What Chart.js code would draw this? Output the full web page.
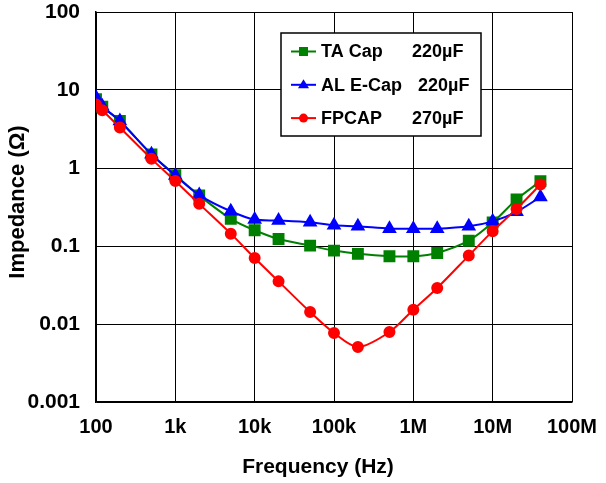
<!DOCTYPE html>
<html>
<head>
<meta charset="utf-8">
<script src="https://cdn.jsdelivr.net/npm/chart.js@4/dist/chart.umd.min.js"></script>
<style>
  html, body { margin: 0; padding: 0; background: #fff; }
  #wrap { width: 606px; height: 483px; }
</style>
</head>
<body>
<div id="wrap"><canvas id="c" width="606" height="483"></canvas></div>
<script>
// Impedance vs. frequency for three 220–270 µF capacitor types
const frequencies = [100, 120, 200, 500, 1e3, 2e3, 5e3, 1e4, 2e4, 5e4, 1e5, 2e5, 5e5, 1e6, 2e6, 5e6, 1e7, 2e7, 4e7];
const taCapZ  = [7.6, 6.1, 4.0, 1.49, 0.81, 0.444, 0.223, 0.159, 0.123, 0.101, 0.0873, 0.0793, 0.0738, 0.0738, 0.0815, 0.117, 0.20, 0.395, 0.678];
const alCapZ  = [8.0, 6.2, 4.0, 1.50, 0.80, 0.45, 0.279, 0.218, 0.212, 0.201, 0.184, 0.179, 0.167, 0.167, 0.167, 0.179, 0.207, 0.274, 0.426];
const fpCapZ  = [6.5, 5.5, 3.3, 1.31, 0.68, 0.347, 0.144, 0.070, 0.0352, 0.01425, 0.00766, 0.00507, 0.00789, 0.01524, 0.029, 0.0753, 0.155, 0.299, 0.614];

const seriesNames  = ['TA Cap', 'AL E-Cap', 'FPCAP'];
const capacitances = ['220µF', '220µF', '270µF'];

const xTickValues = [1e2, 1e3, 1e4, 1e5, 1e6, 1e7, 1e8];
const xTickLabels = ['100', '1k', '10k', '100k', '1M', '10M', '100M'];
const yTickValues = [0.001, 0.01, 0.1, 1, 10, 100];
const yTickLabels = ['0.001', '0.01', '0.1', '1', '10', '100'];

const xAxisTitle = 'Frequency (Hz)';
const yAxisTitle = 'Impedance (Ω)';

const FONT = "'Liberation Sans', Arial, Helvetica, sans-serif";

function toPoints(values) {
  return frequencies.map((f, i) => ({ x: f, y: values[i] }));
}

function labelFor(values, labels, v) {
  const i = values.findIndex(t => Math.abs(Math.log10(t) - Math.log10(v)) < 1e-6);
  return i >= 0 ? labels[i] : '';
}

// Axis titles, placed relative to the plot area
const axisTitles = {
  id: 'axisTitles',
  afterDraw(chart) {
    const ctx = chart.ctx;
    const area = chart.chartArea;
    ctx.save();
    ctx.fillStyle = '#000';
    ctx.textAlign = 'center';
    ctx.textBaseline = 'middle';
    ctx.font = 'bold 21px ' + FONT;
    ctx.fillText(xAxisTitle, (area.left + area.right) / 2 - 16, area.bottom + 65);
    ctx.translate(18, (area.top + area.bottom) / 2 - 5);
    ctx.rotate(-Math.PI / 2);
    ctx.font = 'bold 22px ' + FONT;
    ctx.fillText(yAxisTitle, 0, 0);
    ctx.restore();
  }
};

// Boxed legend in the upper part of the plot
const boxLegend = {
  id: 'boxLegend',
  afterDraw(chart) {
    const ctx = chart.ctx;
    const area = chart.chartArea;
    const x0 = area.left + 185, y0 = area.top + 21;
    const w = 200, h = 103;
    ctx.save();
    ctx.fillStyle = '#fff';
    ctx.fillRect(x0, y0, w, h);
    ctx.strokeStyle = '#000';
    ctx.lineWidth = 1.5;
    ctx.strokeRect(x0, y0, w, h);

    ctx.font = 'bold 18px ' + FONT;
    ctx.textBaseline = 'middle';
    [0, 1, 2].forEach((di, row) => {
      const ds = chart.data.datasets[di];
      const y = y0 + 18.5 + row * 33.3;
      const lx1 = x0 + 10, lx2 = x0 + 35, mx = (lx1 + lx2) / 2;
      ctx.strokeStyle = ds.borderColor;
      ctx.lineWidth = 2;
      ctx.beginPath();
      ctx.moveTo(lx1, y);
      ctx.lineTo(lx2, y);
      ctx.stroke();
      ctx.fillStyle = ds.backgroundColor;
      ctx.beginPath();
      if (ds.pointStyle === 'rect') {
        ctx.rect(mx - 4.5, y - 4.5, 9, 9);
      } else if (ds.pointStyle === 'triangle') {
        ctx.moveTo(mx, y - 5.5);
        ctx.lineTo(mx + 5.5, y + 3.5);
        ctx.lineTo(mx - 5.5, y + 3.5);
        ctx.closePath();
      } else {
        ctx.arc(mx, y, 4.5, 0, Math.PI * 2);
      }
      ctx.fill();

      ctx.fillStyle = '#000';
      ctx.textAlign = 'left';
      const tx = x0 + 40;
      ctx.fillText(seriesNames[di], tx, y + 1);
      const nw = ctx.measureText(seriesNames[di]).width;
      ctx.fillText(capacitances[di], tx + Math.max(nw + 16, 91), y + 1);
    });
    ctx.restore();
  }
};

new Chart(document.getElementById('c'), {
  type: 'line',
  data: {
    datasets: [
      {
        label: seriesNames[0],
        data: toPoints(taCapZ),
        borderColor: '#008000',
        backgroundColor: '#008000',
        pointStyle: 'rect',
        pointRadius: 7,
        borderWidth: 2,
        tension: 0.3,
        order: 2
      },
      {
        label: seriesNames[1],
        data: toPoints(alCapZ),
        borderColor: '#0000ff',
        backgroundColor: '#0000ff',
        pointStyle: 'triangle',
        pointRadius: 6.5,
        borderWidth: 2,
        tension: 0.3,
        order: 1
      },
      {
        label: seriesNames[2],
        data: toPoints(fpCapZ),
        borderColor: '#ff0000',
        backgroundColor: '#ff0000',
        pointStyle: 'circle',
        pointRadius: 5,
        borderWidth: 2,
        tension: 0.3,
        order: 0
      }
    ]
  },
  options: {
    responsive: false,
    animation: false,
    devicePixelRatio: 1,
    layout: { padding: { top: 12, right: 34, left: 0, bottom: 0 } },
    plugins: {
      legend: { display: false },
      tooltip: { enabled: false }
    },
    scales: {
      x: {
        type: 'logarithmic',
        min: 100,
        max: 1e8,
        afterBuildTicks(scale) { scale.ticks = xTickValues.map(v => ({ value: v })); },
        afterFit(scale) { scale.height = 81; scale.paddingLeft = 0; scale.paddingRight = 0; },
        ticks: {
          color: '#000',
          padding: 13,
          maxRotation: 0,
          autoSkip: false,
          font: { family: FONT, size: 20, weight: 'bold' },
          callback: v => labelFor(xTickValues, xTickLabels, v)
        },
        grid: { color: '#000', lineWidth: 1, drawTicks: false },
        border: { color: '#000', width: 1.5 }
      },
      y: {
        type: 'logarithmic',
        min: 0.001,
        max: 100,
        afterBuildTicks(scale) { scale.ticks = yTickValues.map(v => ({ value: v })); },
        afterFit(scale) { scale.width = 96; scale.paddingTop = 0; scale.paddingBottom = 0; },
        ticks: {
          color: '#000',
          padding: 16,
          autoSkip: false,
          font: { family: FONT, size: 21, weight: 'bold' },
          callback: v => labelFor(yTickValues, yTickLabels, v)
        },
        grid: { color: '#000', lineWidth: 1, drawTicks: false },
        border: { color: '#000', width: 1.5 }
      }
    }
  },
  plugins: [boxLegend, axisTitles]
});
</script>
</body>
</html>
